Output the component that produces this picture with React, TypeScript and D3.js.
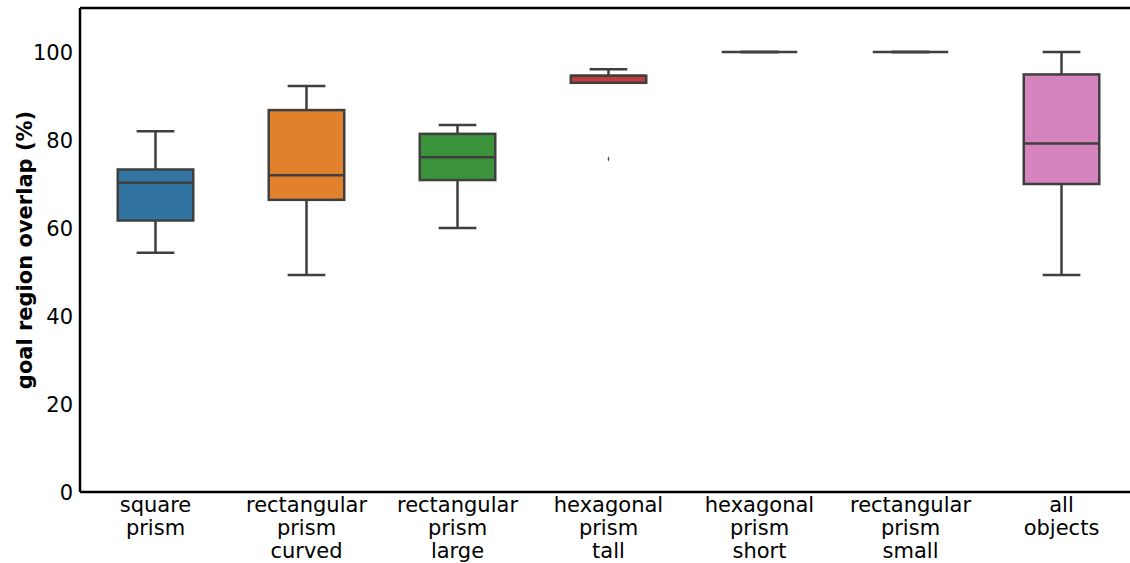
import React, { useEffect } from "react";
import * as d3 from "d3";

// one entry per box
const categories = [
  "square\nprism",
  "rectangular\nprism\ncurved",
  "rectangular\nprism\nlarge",
  "hexagonal\nprism\ntall",
  "hexagonal\nprism\nshort",
  "rectangular\nprism\nsmall",
  "all\nobjects",
];
const whiskerLow = [54.4, 49.3, 60.0, 93.0, 100, 100, 49.3];
const quartile1 = [61.7, 66.4, 70.9, 93.0, 100, 100, 70.0];
const medians = [70.3, 72.0, 76.1, 94.6, 100, 100, 79.2];
const quartile3 = [73.3, 86.8, 81.4, 94.6, 100, 100, 94.9];
const whiskerHigh = [82.0, 92.3, 83.4, 96.1, 100, 100, 100];
const outliers = [[], [], [], [75.7], [], [], []];
const yTicks = [0, 20, 40, 60, 80, 100];

const palette = ["#3274a1", "#e1812c", "#3a923a", "#c03d3e", "#9372b2", "#845b53", "#d684bd"];

const W = 1130, H = 563;
const left = 80, top = 8, bottom = 492, right = 1137;
const lineCol = "#3f3f3f";
const font = "DejaVu Sans, sans-serif";

export default function App() {
  useEffect(() => {
    document.body.style.margin = "0";
  }, []);

  const x = d3.scaleBand<string>().domain(categories).range([left, right]).padding(0);
  const y = d3.scaleLinear().domain([0, 110]).range([bottom, top]);
  const bw = x.bandwidth() * 0.5;
  const capW = bw * 0.5;

  return (
    <svg width={W} height={H} style={{ display: "block", background: "#fff" }}>
      {categories.map((c, i) => {
        const cx = x(c)! + x.bandwidth() / 2;
        return (
          <g key={c}>
            <line x1={cx} x2={cx} y1={y(whiskerLow[i])} y2={y(quartile1[i])} stroke={lineCol} strokeWidth={2.5} />
            <line x1={cx} x2={cx} y1={y(quartile3[i])} y2={y(whiskerHigh[i])} stroke={lineCol} strokeWidth={2.5} />
            <line x1={cx - capW / 2} x2={cx + capW / 2} y1={y(whiskerLow[i])} y2={y(whiskerLow[i])} stroke={lineCol} strokeWidth={2.5} />
            <line x1={cx - capW / 2} x2={cx + capW / 2} y1={y(whiskerHigh[i])} y2={y(whiskerHigh[i])} stroke={lineCol} strokeWidth={2.5} />
            <rect x={cx - bw / 2} y={y(quartile3[i])} width={bw} height={y(quartile1[i]) - y(quartile3[i])}
              fill={palette[i]} stroke={lineCol} strokeWidth={2.5} />
            <line x1={cx - bw / 2} x2={cx + bw / 2} y1={y(medians[i])} y2={y(medians[i])} stroke={lineCol} strokeWidth={2.5} />
            {outliers[i].map((o, j) => (
              <path key={j} d={d3.symbol(d3.symbolDiamond, 8)()!} transform={`translate(${cx},${y(o)}) scale(0.6,1)`} fill={lineCol} />
            ))}
          </g>
        );
      })}

      {/* spines */}
      <line x1={left} x2={left} y1={top} y2={bottom} stroke="#000" strokeWidth={2.5} />
      <line x1={left} x2={right} y1={bottom} y2={bottom} stroke="#000" strokeWidth={2.5} />
      <line x1={left} x2={right} y1={top} y2={top} stroke="#000" strokeWidth={2.5} />
      <line x1={right} x2={right} y1={top} y2={bottom} stroke="#000" strokeWidth={2.5} />

      {yTicks.map((t) => (
        <text key={t} x={left - 7} y={y(t)} dy="0.36em" textAnchor="end" fontFamily={font} fontSize={21} fill="#000">
          {t}
        </text>
      ))}

      {categories.map((c) => {
        const cx = x(c)! + x.bandwidth() / 2;
        return (
          <text key={c} x={cx} y={512} textAnchor="middle" fontFamily={font} fontSize={21} fill="#000">
            {c.split("\n").map((ln, k) => (
              <tspan key={k} x={cx} dy={k === 0 ? 0 : 23.2}>{ln}</tspan>
            ))}
          </text>
        );
      })}

      <text transform={`translate(32,250) rotate(-90)`} textAnchor="middle" fontFamily={font}
        fontSize={21} fontWeight="bold" fill="#000">
        goal region overlap (%)
      </text>
    </svg>
  );
}
